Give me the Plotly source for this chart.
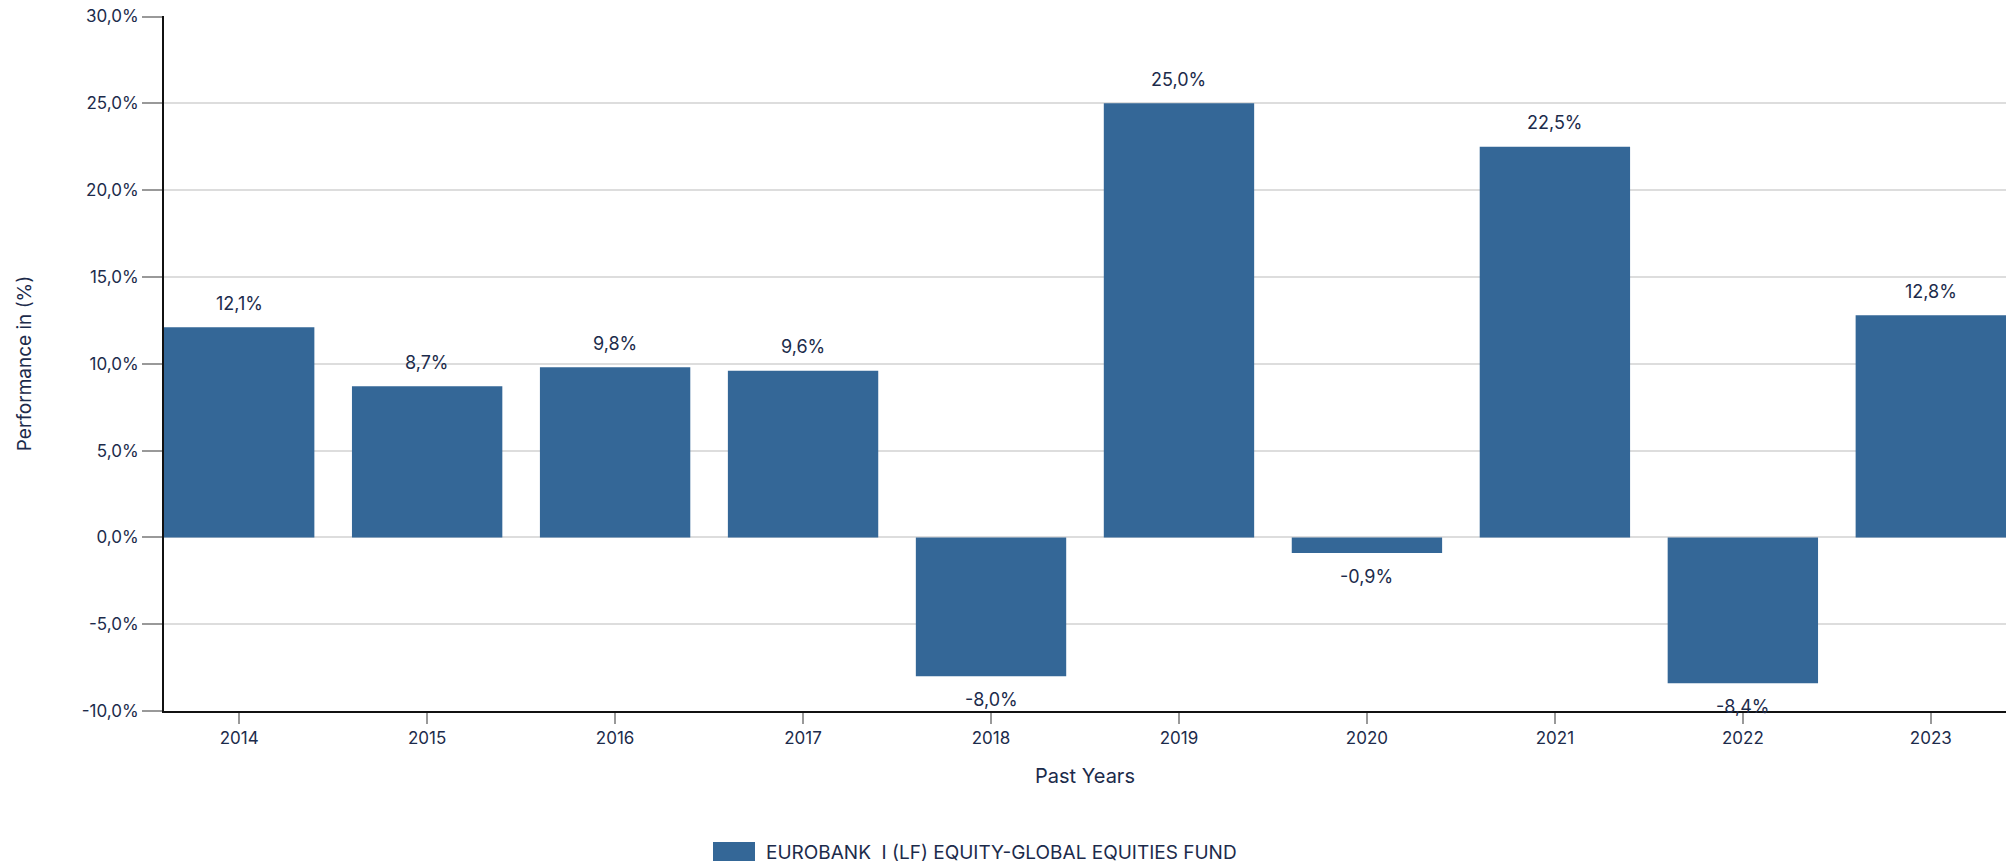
import plotly.graph_objects as go

years = ["2014", "2015", "2016", "2017", "2018", "2019", "2020", "2021", "2022", "2023"]
performance = [12.1, 8.7, 9.8, 9.6, -8.0, 25.0, -0.9, 22.5, -8.4, 12.8]
y_ticks = [-10, -5, 0, 5, 10, 15, 20, 25, 30]
y_tick_labels = ["-10,0%", "-5,0%", "0,0%", "5,0%", "10,0%", "15,0%", "20,0%", "25,0%", "30,0%"]
series_name = "EUROBANK  I (LF) EQUITY-GLOBAL EQUITIES FUND"

BAR = "#346797"
TXT = "#1c2b4b"
FONT = "Inter"

def fmt(v):
    return f"{v:.1f}".replace(".", ",") + "%"

fig = go.Figure()
fig.add_trace(go.Bar(
    x=years, y=performance, name=series_name,
    marker=dict(color=BAR, line=dict(width=0)),
    showlegend=False,
))

for i, v in enumerate(performance):
    fig.add_annotation(
        x=i, y=v, text=fmt(v), showarrow=False,
        yanchor="middle", yshift=24 if v >= 0 else -23,
        font=dict(family=FONT, size=18, color=TXT),
    )

# legend (drawn)
fig.add_shape(type="rect", xref="paper", yref="paper",
              x0=(713 - 164) / 1842, x1=(755 - 164) / 1842,
              y0=-(842 - 711) / 695, y1=-(861 - 711) / 695,
              fillcolor=BAR, line=dict(width=0))
fig.add_annotation(xref="paper", yref="paper",
                   x=(764 - 164) / 1842, y=-(852 - 711) / 695,
                   xanchor="left", yanchor="middle", showarrow=False,
                   text=series_name,
                   font=dict(family=FONT, size=19, color=TXT))

fig.update_layout(
    width=2015, height=866,
    margin=dict(l=164, r=9, t=16, b=155, autoexpand=False),
    paper_bgcolor="white", plot_bgcolor="white",
    bargap=0.2,
    font=dict(family=FONT, size=17, color=TXT),
    xaxis=dict(
        type="category",
        range=[-0.4, 9.4],
        automargin=False,
        showline=True, linecolor="#111111", linewidth=2,
        ticks="outside", ticklen=11, tickcolor="#999999", tickwidth=1.5,
        showgrid=False,
        tickfont=dict(family=FONT, size=17, color=TXT),
        title=dict(text="Past Years", standoff=22,
                   font=dict(family=FONT, size=20, color=TXT)),
    ),
    yaxis=dict(
        range=[-10, 30.03],
        automargin=False,
        tickvals=y_ticks, ticktext=y_tick_labels,
        ticklabeloverflow="allow",
        showline=True, linecolor="#111111", linewidth=2,
        ticks="outside", ticklen=20, tickcolor="#999999", tickwidth=1.5,
        showgrid=True, gridcolor="#dddddd", gridwidth=2,
        zeroline=False,
        tickfont=dict(family=FONT, size=17, color=TXT),
        title=dict(text="Performance in (%)", standoff=45,
                   font=dict(family=FONT, size=19, color=TXT)),
    ),
)

fig.write_html("out.html",
               config={"displayModeBar": False},
               post_script="document.body.style.margin='0';document.body.style.overflow='hidden';")
